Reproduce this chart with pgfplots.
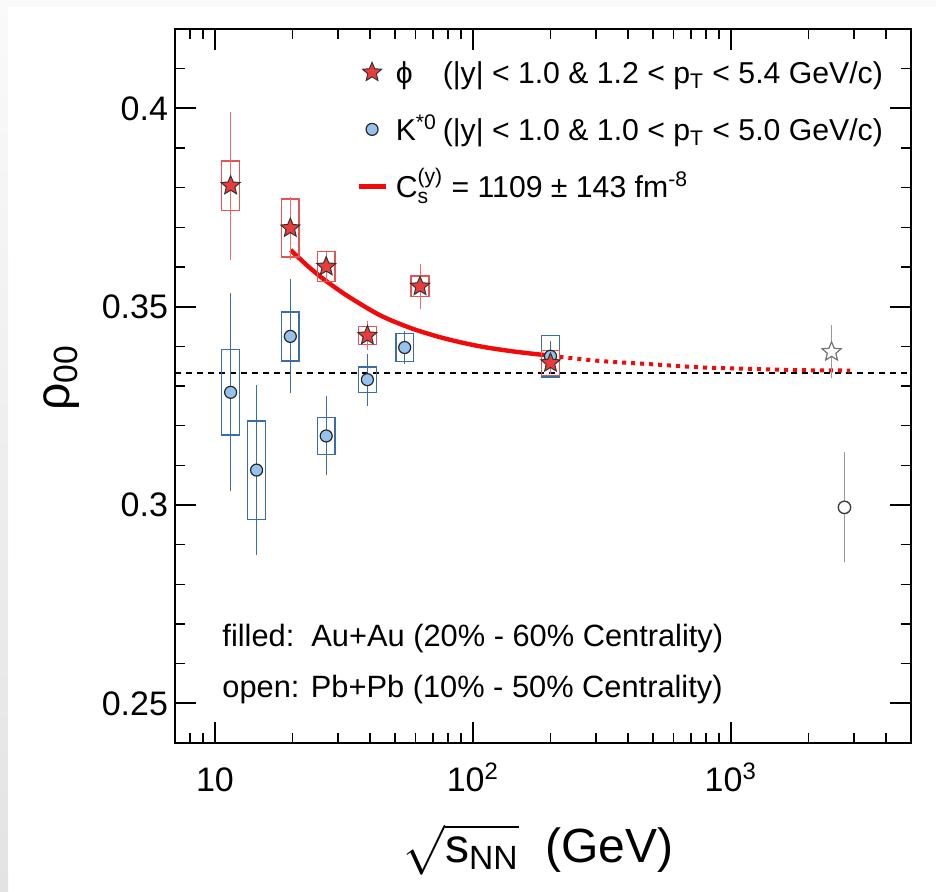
\documentclass[border=0pt]{standalone}
\usepackage{amsmath}
\usepackage{graphicx}
\usepackage{fontspec}
\setmainfont{Liberation Sans}
\usepackage{pgfplots}
\pgfplotsset{compat=1.18}
\usepackage{pgfplotstable}

\definecolor{starred}{RGB}{235,60,60}
\definecolor{boxred}{RGB}{225,85,85}
\definecolor{errred}{RGB}{230,110,110}
\definecolor{kfill}{RGB}{150,195,238}
\definecolor{kblue}{RGB}{60,110,165}
\definecolor{fitred}{RGB}{240,10,10}

\pgfdeclareplotmark{fstar}{%
  \pgfpathmoveto{\pgfpointpolar{90}{\pgfplotmarksize}}%
  \pgfpathlineto{\pgfpointpolar{126}{0.45*\pgfplotmarksize}}%
  \pgfpathlineto{\pgfpointpolar{162}{\pgfplotmarksize}}%
  \pgfpathlineto{\pgfpointpolar{198}{0.45*\pgfplotmarksize}}%
  \pgfpathlineto{\pgfpointpolar{234}{\pgfplotmarksize}}%
  \pgfpathlineto{\pgfpointpolar{270}{0.45*\pgfplotmarksize}}%
  \pgfpathlineto{\pgfpointpolar{306}{\pgfplotmarksize}}%
  \pgfpathlineto{\pgfpointpolar{342}{0.45*\pgfplotmarksize}}%
  \pgfpathlineto{\pgfpointpolar{18}{\pgfplotmarksize}}%
  \pgfpathlineto{\pgfpointpolar{54}{0.45*\pgfplotmarksize}}%
  \pgfpathclose\pgfusepathqfillstroke}

% phi (STAR Au+Au)
\pgfplotstableread{
x y stat sys
11.5 0.3805 0.018 0.0062
19.6 0.3698 0.0073 0.0073
27 0.3601 0.003 0.0038
39 0.3427 0.003 0.0023
62.4 0.3551 0.005 0.0026
200 0.3358 0.002 0.0031
}\phidata
% K*0 (STAR Au+Au)
\pgfplotstableread{
x y stat sys
11.5 0.3284 0.0243 0.0108
14.5 0.3088 0.0207 0.0124
19.6 0.3425 0.0137 0.0062
27 0.3174 0.0093 0.0046
39 0.3316 0.0059 0.0032
54.4 0.3397 0.0034 0.0036
200 0.3375 0.0033 0.0052
}\kdata
% ALICE Pb+Pb
\pgfplotstableread{
x y stat
2460 0.3386 0.006
}\alicephi
\pgfplotstableread{
x y stat
2760 0.2994 0.0132
}\alicek

\newcommand{\sysbox}[4]{%
  \pgfmathsetmacro\xa{#2/1.0822}\pgfmathsetmacro\xb{#2*1.0822}%
  \pgfmathsetmacro\ya{#3-#4}\pgfmathsetmacro\yb{#3+#4}%
  \edef\doit{\noexpand\addplot[#1, line width=0.7pt, line cap=rect, forget plot] coordinates {(\xa,\ya) (\xb,\ya) (\xb,\yb) (\xa,\yb) (\xa,\ya)};}\doit}
\newcommand{\drawboxes}[2]{%
  \pgfplotstablegetrowsof{#1}\pgfmathtruncatemacro\nr{\pgfplotsretval-1}%
  \pgfplotsforeachungrouped \rowi in {0,...,\nr}{%
    \pgfplotstablegetelem{\rowi}{x}\of#1\let\vx\pgfplotsretval
    \pgfplotstablegetelem{\rowi}{y}\of#1\let\vy\pgfplotsretval
    \pgfplotstablegetelem{\rowi}{sys}\of#1\let\vs\pgfplotsretval
    \sysbox{#2}{\vx}{\vy}{\vs}}}

\begin{document}
\begin{tikzpicture}
\shade[top color=gray!4, bottom color=gray!22] (0,0) rectangle (4pt,446pt);
\fill[gray!5] (4pt,442.5pt) rectangle (468pt,446pt);
\begin{axis}[
  at={(87.5pt,74.5pt)}, anchor=south west,
  scale only axis, width=368pt, height=357pt,
  xmode=log, xmin=7, xmax=5000, ymin=0.24, ymax=0.42,
  xtick={10,100,1000}, xticklabels={10,10\textsuperscript{2},10\textsuperscript{3}},
  minor xtick={8,9,20,30,40,50,60,70,80,90,200,300,400,500,600,700,800,900,2000,3000,4000},
  ytick={0.25,0.3,0.35,0.4}, yticklabels={0.25,0.3,0.35,0.4},
  minor ytick={0.26,0.27,0.28,0.29,0.31,0.32,0.33,0.34,0.36,0.37,0.38,0.39,0.41},
  xtick pos=both, ytick pos=both, tick align=inside,
  major tick length=10.5pt, minor tick length=5pt,
  axis line style={line width=1pt},
  major tick style={line width=1pt, black},
  minor tick style={line width=0.8pt, black},
  tick label style={font=\fontsize{17}{20}\selectfont},
  xticklabel style={anchor=base, yshift=-24.5pt},
  xlabel={$\sqrt{\text{s}_{\text{NN}}}$\ \ (GeV)},
  xlabel style={at={(axis description cs:0.494,-0.1667)}, anchor=base, font=\fontsize{24}{28}\selectfont},
  legend style={at={(axis description cs:0.2459,0.9797)}, anchor=north west, draw=none, fill=none,
    inner sep=0pt, column sep=4pt, row sep=0pt, font=\fontsize{15.1}{17}\selectfont,
    nodes={inner sep=0pt, text depth=}, cells={anchor=west}},
  legend cell align=left,
]
% reference line at 1/3
\addplot[forget plot, black, line width=1pt, dash pattern=on 3pt off 2.5pt] coordinates {(7,0.33333) (5000,0.33333)};
% fit (solid part)
\addplot[forget plot, fitred, line width=2.2pt, smooth] table {
x y
19.65 0.36429
23 0.36013
26.4 0.35693
32.6 0.35273
43.8 0.34778
59.0 0.34433
79.4 0.34183
106.9 0.33998
143.9 0.3387
199.5 0.33764
};
% fit (extrapolated, dotted)
\addplot[forget plot, fitred, line width=2pt, dash pattern=on 2pt off 2.5pt, smooth] table {
x y
200 0.3376
312 0.3363
488 0.3355
760 0.3347
1189 0.3343
1855 0.3340
2900 0.3339
};
% K*0 boxes and points
\drawboxes{\kdata}{kblue}
\addplot[forget plot, kblue, only marks, mark=*, mark size=3pt,
  mark options={fill=kfill, draw=black!85, line width=0.6pt},
  error bars/.cd, y dir=both, y explicit,
  error bar style={kblue, line width=0.5pt},
  error mark options={kblue, mark size=1.3pt, line width=0.5pt}]
  table[x=x, y=y, y error=stat] {\kdata};
% phi boxes and points
\drawboxes{\phidata}{boxred}
\addplot[forget plot, errred, only marks, mark=fstar, mark size=5pt,
  mark options={fill=starred, draw=black!80, line width=0.5pt},
  error bars/.cd, y dir=both, y explicit,
  error bar style={errred, line width=0.5pt},
  error mark options={errred, mark size=1.3pt, line width=0.5pt}]
  table[x=x, y=y, y error=stat] {\phidata};
% ALICE
\addplot[forget plot, gray, only marks, mark=fstar, mark size=5pt,
  mark options={fill=white, draw=black!55, line width=0.6pt},
  error bars/.cd, y dir=both, y explicit,
  error bar style={black!40, line width=0.5pt},
  error mark options={black!40, mark size=1.3pt, line width=0.5pt}]
  table[x=x, y=y, y error=stat] {\alicephi};
\addplot[forget plot, gray, only marks, mark=*, mark size=3.1pt,
  mark options={fill=white, draw=black!75, line width=0.7pt},
  error bars/.cd, y dir=both, y explicit,
  error bar style={black!40, line width=0.5pt},
  error mark options={black!40, mark size=1.3pt, line width=0.5pt}]
  table[x=x, y=y, y error=stat] {\alicek};
% legend
\addlegendimage{legend image code/.code={\path[draw=none, fill=none] (0pt,-5pt) rectangle (13.5pt,5pt); \draw[draw=black!80, fill=starred, line width=0.5pt] plot[mark=fstar, mark size=5pt, only marks] coordinates {(6.75pt,0pt)};}}
\addlegendentry{\rule[-8.75pt]{0pt}{28.5pt}\makebox[23.5pt][l]{ϕ}(|y| < 1.0 \& 1.2 < p\textsubscript{T} < 5.4 GeV/c)}
\addlegendimage{legend image code/.code={\path[draw=none, fill=none] (0pt,-5pt) rectangle (13.5pt,5pt); \draw[draw=black!85, fill=kfill, line width=0.6pt] plot[mark=*, mark size=3pt, only marks] coordinates {(6.75pt,0pt)};}}
\addlegendentry{\rule[-8.75pt]{0pt}{28.5pt}\makebox[23.5pt][l]{K\textsuperscript{*0}}(|y| < 1.0 \& 1.0 < p\textsubscript{T} < 5.0 GeV/c)}
\addlegendimage{legend image code/.code={\draw[fitred, line width=2.2pt] (0pt,0pt) -- (13.5pt,0pt);}}
\addlegendentry{\rule[-8.75pt]{0pt}{28.5pt}C$^{\text{(y)}}_{\text{s}}$ = 1109 ± 143 fm\textsuperscript{-8}}
\node[anchor=base west, inner sep=0pt, font=\fontsize{15.4}{18}\selectfont] at (axis description cs:0.0639,0.1345) {filled:\ \ Au+Au (20\% - 60\% Centrality)};
\node[anchor=base west, inner sep=0pt, font=\fontsize{15.4}{18}\selectfont] at (axis description cs:0.0639,0.0644) {open: Pb+Pb (10\% - 50\% Centrality)};
\end{axis}
\node[anchor=center, inner sep=0pt, font=\fontsize{24}{28}\selectfont] at (31pt,257pt) {\rotatebox{90}{ρ\textsubscript{00}}};
\pgfresetboundingbox
\path[use as bounding box] (0,0) rectangle (468pt,446pt);
\end{tikzpicture}
\end{document}
